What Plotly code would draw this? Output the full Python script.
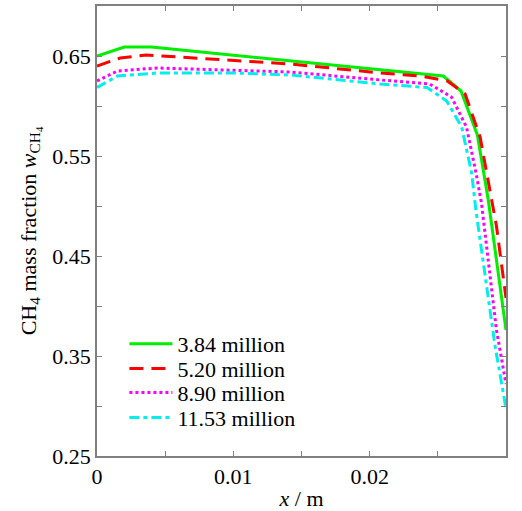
import plotly.graph_objects as go

# Series data (x in m, CH4 mass fraction)
x_384 = [0, 0.002, 0.004, 0.010, 0.0142, 0.0208, 0.0254, 0.0267, 0.0279, 0.0287, 0.030]
y_384 = [0.650, 0.659, 0.659, 0.651, 0.645, 0.636, 0.630, 0.615, 0.571, 0.506, 0.376]

x_520 = [0, 0.0017, 0.0036, 0.010, 0.0142, 0.0208, 0.0237, 0.0257, 0.0270, 0.0281, 0.0293, 0.030]
y_520 = [0.640, 0.648, 0.651, 0.646, 0.642, 0.633, 0.630, 0.625, 0.612, 0.569, 0.480, 0.408]

x_890 = [0, 0.0015, 0.0044, 0.010, 0.0142, 0.0208, 0.0244, 0.0260, 0.0271, 0.0278, 0.0282, 0.0293, 0.030]
y_890 = [0.625, 0.635, 0.638, 0.636, 0.634, 0.626, 0.622, 0.609, 0.579, 0.533, 0.503, 0.376, 0.322]

x_1153 = [0, 0.0015, 0.0044, 0.010, 0.0142, 0.0208, 0.0242, 0.02565, 0.02675, 0.02748, 0.0278, 0.0292, 0.030]
y_1153 = [0.6185, 0.630, 0.633, 0.633, 0.631, 0.622, 0.6185, 0.605, 0.579, 0.533, 0.495, 0.360, 0.2975]

labels = ["3.84 million", "5.20 million", "8.90 million", "11.53 million"]

x_tickvals = [0, 0.005, 0.01, 0.015, 0.02, 0.025, 0.03]
x_ticktext = ["0", "", "0.01", "", "0.02", "", "0.03"]
y_tickvals = [0.25, 0.30, 0.35, 0.40, 0.45, 0.50, 0.55, 0.60, 0.65, 0.70]
y_ticktext = ["0.25", "", "0.35", "", "0.45", "", "0.55", "", "0.65", ""]

FONT = "Liberation Serif, Times New Roman, serif"
FS = 22

fig = go.Figure()
styles = [
    ("#00ee00", "solid"),
    ("#ff0000", "14px,8px"),
    ("#ff00ff", "dot"),
    ("#00eeee", "10px,4px,4px,4px"),
]
legend_ids = ["legend", "legend2", "legend3", "legend4"]
legend_y = [0.249, 0.194, 0.1405, 0.085]

for (xs, ys), lab, (col, dash), lid in zip(
    [(x_384, y_384), (x_520, y_520), (x_890, y_890), (x_1153, y_1153)], labels, styles, legend_ids
):
    fig.add_trace(go.Scatter(x=xs, y=ys, mode="lines", name=lab, legend=lid, showlegend=True,
                             line=dict(color=col, width=3, dash=dash)))

axis_common = dict(
    showline=True, linecolor="#808080", linewidth=1.5, mirror="ticks",
    ticks="inside", ticklen=5, tickcolor="#808080", tickwidth=1,
    showgrid=False, zeroline=False,
    tickfont=dict(family=FONT, size=FS, color="black"),
)

fig.update_xaxes(range=[0, 0.03], tickmode="array", tickvals=x_tickvals, ticktext=x_ticktext,
                 ticklabelstandoff=0, automargin="left",
                 title=dict(text="<i>x</i> / m", font=dict(family=FONT, size=FS, color="black"), standoff=5),
                 **axis_common)
fig.update_yaxes(range=[0.25, 0.70], tickmode="array", tickvals=y_tickvals, ticktext=y_ticktext,
                 automargin="top",
                 title=dict(text="CH<sub>4</sub> mass fraction <i>w</i><sub>CH<sub>4</sub></sub>",
                            font=dict(family=FONT, size=FS, color="black"), standoff=10),
                 **axis_common)

legend_layout = {}
for lid, ly in zip(legend_ids, legend_y):
    legend_layout[lid] = dict(x=0.067, y=ly, xanchor="left", yanchor="middle", visible=True,
                              bgcolor="rgba(0,0,0,0)", borderwidth=0, itemwidth=43,
                              font=dict(family=FONT, size=FS, color="black"))

fig.update_layout(
    width=522, height=511,
    margin=dict(l=97, r=16, t=6, b=55),
    paper_bgcolor="white", plot_bgcolor="white",
    font=dict(family=FONT, size=FS, color="black"),
    showlegend=True,
    **legend_layout,
)

fig.write_html("out.html", config={"displayModeBar": False},
               post_script="document.body.style.margin='0';document.body.style.overflow='hidden';")
